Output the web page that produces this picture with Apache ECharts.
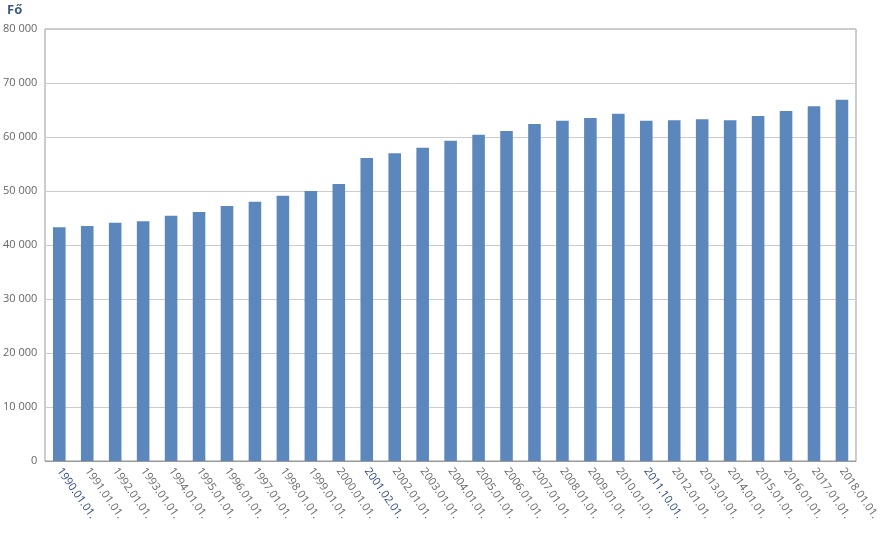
<!DOCTYPE html><html><head><meta charset="utf-8"><script src="https://cdn.jsdelivr.net/npm/echarts@6/dist/echarts.min.js"></script></head><body style="margin:0"><div id="c" style="width:882px;height:540px"></div><script>
const categories=['1990.01.01.','1991.01.01.','1992.01.01.','1993.01.01.','1994.01.01.','1995.01.01.','1996.01.01.','1997.01.01.','1998.01.01.','1999.01.01.','2000.01.01.','2001.02.01.','2002.01.01.','2003.01.01.','2004.01.01.','2005.01.01.','2006.01.01.','2007.01.01.','2008.01.01.','2009.01.01.','2010.01.01.','2011.10.01.','2012.01.01.','2013.01.01.','2014.01.01.','2015.01.01.','2016.01.01.','2017.01.01.','2018.01.01.'];
const values=[43300,43500,44100,44400,45400,46100,47200,48000,49100,50000,51300,56100,57000,58000,59300,60400,61100,62400,63000,63500,64300,63000,63100,63300,63100,63900,64800,65700,66900];
const highlighted=['1990.01.01.','2001.02.01.','2011.10.01.'];
const c=echarts.init(document.getElementById('c'));
c.setOption({
 animation:false,
 graphic:[{type:'text',left:7,top:4,style:{text:'Fő',font:'bold 13px "Open Sans"',fill:'#3d5a80'}},
  {type:'rect',shape:{x:45,y:29,width:811,height:432},style:{fill:'none',stroke:'#999',lineWidth:1}}],
 grid:{left:45,right:26,top:29,bottom:79},
 xAxis:{type:'category',data:categories,axisLine:{lineStyle:{color:'#999'}},axisTick:{length:4,lineStyle:{color:'#999'}},
  axisLabel:{rotate:-55,interval:0,margin:8,fontFamily:'Open Sans',fontSize:11,
   formatter:v=>highlighted.includes(v)?'{h|'+v+'}':v,color:'#666',rich:{h:{color:'#2c4a80',fontFamily:'Open Sans',fontSize:11}}}},
 yAxis:{type:'value',min:0,max:80000,interval:10000,splitLine:{lineStyle:{color:'#ccc'}},
  axisLabel:{fontFamily:'Open Sans',fontSize:11,color:'#666',formatter:v=>v===0?'0':String(v).replace(/(\d)(?=(\d{3})+$)/g,'$1 ')}},
 series:[{type:'bar',data:values,barWidth:'45%',itemStyle:{color:'#5b87bd'}}]
});
</script></body></html>
